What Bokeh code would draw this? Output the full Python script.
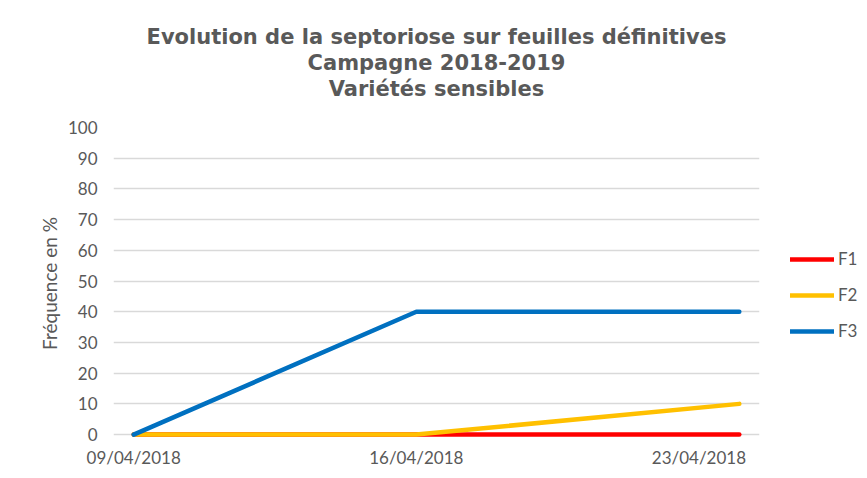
import pandas as pd
from bokeh.plotting import figure
from bokeh.layouts import row
from bokeh.models import Range1d, FixedTicker, DatetimeTickFormatter, Legend, LegendItem, SingleIntervalTicker, Title
from bokeh.embed import file_html
from bokeh.resources import INLINE

# ---- data ----
dates = ["2018-04-09", "2018-04-16", "2018-04-24"]
f1 = [0, 0, 0]
f2 = [0, 0, 10]
f3 = [0, 40, 40]
series_names = ["F1", "F2", "F3"]
series_colors = ["#FF0000", "#FFC000", "#0070C0"]
tick_dates = ["2018-04-09", "2018-04-16", "2018-04-23"]
title_lines = ["Evolution de la septoriose sur feuilles définitives",
               "Campagne 2018-2019",
               "Variétés sensibles"]
y_label = "Fréquence en %"

x = pd.to_datetime(dates)
half_day = pd.Timedelta(hours=12)
text_col = "#595959"
tick_font = "Lato"

p = figure(width=767, height=476, x_axis_type="datetime",
           x_range=Range1d(x.min() - half_day, x.max() + half_day),
           y_range=Range1d(-1.6, 100),
           output_backend="svg", toolbar_location=None,
           min_border_left=113, min_border_right=8,
           min_border_top=127, min_border_bottom=37)
p.outline_line_color = None
p.background_fill_color = "white"
p.border_fill_color = "white"
p.title = None

# spacer between plot and title block
p.add_layout(Title(text=" ", text_font_size="19px", standoff=4), "above")
# titles: added bottom line first (closest to the plot)
for line in reversed(title_lines):
    t = Title(text=line, align="center", text_font="DejaVu Sans",
              text_font_size="21px", text_font_style="bold", text_color=text_col,
              standoff=0)
    p.add_layout(t, "above")

for vals, col in zip([f1, f2, f3], series_colors):
    p.line(x, vals, line_color=col, line_width=4.5, line_cap="round", line_join="round")

p.xgrid.grid_line_color = None
p.ygrid.grid_line_color = "#D9D9D9"
p.ygrid.grid_line_width = 1.3

p.yaxis.ticker = SingleIntervalTicker(interval=10)
p.xaxis.ticker = FixedTicker(ticks=[pd.Timestamp(t).value / 1e6 for t in tick_dates])
p.xaxis.formatter = DatetimeTickFormatter(days="%d/%m/%Y", months="%d/%m/%Y", hours="%d/%m/%Y")

for ax in (p.xaxis, p.yaxis):
    ax.axis_line_color = None
    ax.major_tick_line_color = None
    ax.minor_tick_line_color = None
    ax.major_label_text_font = tick_font
    ax.major_label_text_font_size = "17px"
    ax.major_label_text_color = text_col
p.xaxis.major_label_standoff = 1
p.yaxis.major_label_standoff = 10
p.yaxis.axis_label = y_label
p.yaxis.axis_label_text_font = tick_font
p.yaxis.axis_label_text_font_size = "19px"
p.yaxis.axis_label_text_font_style = "normal"
p.yaxis.axis_label_text_color = text_col
p.yaxis.axis_label_standoff = 4

# legend panel (separate figure to the right)
lg = figure(width=98, height=476, x_range=Range1d(0, 1), y_range=Range1d(0, 1),
            x_axis_type=None, y_axis_type=None,
            output_backend="svg", toolbar_location=None,
            min_border_left=0, min_border_right=0, min_border_top=0, min_border_bottom=0)
lg.outline_line_color = None
lg.xgrid.visible = False
lg.ygrid.visible = False
lg.border_fill_color = "white"
items = []
for name, col in zip(series_names, series_colors):
    # single off-range point: invisible in the panel, but gives the legend glyph
    r = lg.line([-1], [-1], line_color=col, line_width=4.5, line_cap="round")
    items.append(LegendItem(label=name, renderers=[r]))
legend = Legend(items=items, location=(23, 98), orientation="vertical",
                glyph_width=44, glyph_height=20, label_height=20, spacing=15,
                label_standoff=4, padding=0, margin=0, border_line_color=None,
                background_fill_alpha=0,
                label_text_font=tick_font, label_text_font_size="17px", label_text_color=text_col)
lg.add_layout(legend, "center")

layout = row(p, lg)
open("out.html", "w").write(file_html(layout, INLINE))
